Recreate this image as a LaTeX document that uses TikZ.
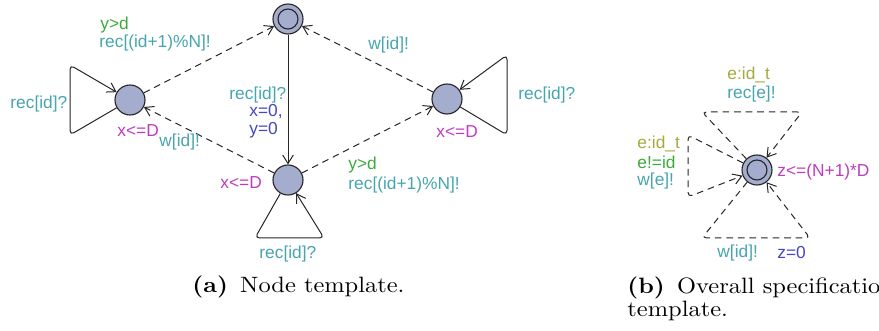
\documentclass[tikz,border=0pt]{standalone}
\usepackage{fontspec}
\newfontfamily\uppaalfont{Liberation Sans}
\usetikzlibrary{arrows.meta}
\definecolor{locfill}{RGB}{164,173,205}
\definecolor{synccol}{RGB}{70,165,175}
\definecolor{guardcol}{RGB}{60,170,60}
\definecolor{invcol}{RGB}{190,60,190}
\definecolor{updcol}{RGB}{70,70,190}
\definecolor{selcol}{RGB}{165,170,60}
\tikzset{
	loc/.style={circle,draw=black!85,fill=locfill,line width=0.5pt,minimum size=13.5pt,inner sep=0pt},
	edge/.style={black!85,line width=0.45pt,-{Straight Barb[length=3.8pt,width=4.8pt]}},
	dashededge/.style={edge,dash pattern=on 3pt off 2.2pt},
	lbl/.style={anchor=west,inner sep=0pt,font=\uppaalfont\fontsize{7.8}{9}\selectfont},
	capt/.style={anchor=base west,inner sep=0pt,font=\fontsize{10}{12}\selectfont},
}

\begin{document}
\begin{tikzpicture}[x=0.45pt,y=-0.45pt]
	\useasboundingbox (0,0) rectangle (879,331);
	% locations
	\node[loc] (T) at (288,19) {};
	\node[loc] (L) at (130,100) {};
	\node[loc] (R) at (447,99) {};
	\node[loc] (B) at (288,180) {};
	\node[loc] (S) at (757,170) {};
	\draw[black!85,line width=0.5pt] (T.center) circle[radius=4.5pt];
	\draw[black!85,line width=0.5pt] (S.center) circle[radius=4.5pt];
	% loop corners
	\coordinate (Lt) at (70,65);
	\coordinate (Lb) at (70,135);
	\coordinate (Bl) at (255,238);
	\coordinate (Br) at (324,238);
	\coordinate (Rt) at (507,55);
	\coordinate (Rb) at (507,135);
	\coordinate (St1) at (702,112);
	\coordinate (St2) at (802,112);
	\coordinate (Sl1) at (688,135);
	\coordinate (Sl2) at (688,197);
	\coordinate (Sb1) at (702,238);
	\coordinate (Sb2) at (810,238);
	% edges
	\draw[dashededge] (L) -- (T);
	\draw[edge] (T) -- (B);
	\draw[dashededge] (B) -- (R);
	\draw[dashededge] (R) -- (T);
	\draw[dashededge] (B) -- (L);
	\draw[edge,rounded corners=2pt] (L) -- (Lb) -- (Lt) -- (L);
	\draw[edge,rounded corners=2pt] (B) -- (Bl) -- (Br) -- (B);
	\draw[edge,rounded corners=2pt] (R) -- (Rb) -- (Rt) -- (R);
	\draw[dashededge,rounded corners=2pt] (S) -- (St1) -- (St2) -- (S);
	\draw[dashededge,rounded corners=2pt] (S) -- (Sl1) -- (Sl2) -- (S);
	\draw[dashededge,rounded corners=2pt] (S) -- (Sb1) -- (Sb2) -- (S);
	% labels (a)
	\node[lbl,guardcol] (g1) at (100,25) {y>d};
	\node[lbl,synccol] (s1) at (99,43) {rec[(id+1)\%N]!};
	\node[lbl,synccol] (s2) at (10,104) {rec[id]?};
	\node[lbl,invcol] (i1) at (117,131) {x<=D};
	\node[lbl,synccol] (s3) at (159,142) {w[id]!};
	\node[lbl,synccol] (s4) at (229,95) {rec[id]?};
	\node[lbl,updcol] (u1) at (249,112) {x=0,};
	\node[lbl,updcol] (u2) at (249,130) {y=0};
	\node[lbl,synccol] (s5) at (368,45) {w[id]!};
	\node[lbl,invcol] (i2) at (436,132) {x<=D};
	\node[lbl,synccol] (s6) at (518,95) {rec[id]?};
	\node[lbl,invcol] (i3) at (220,183) {x<=D};
	\node[lbl,guardcol] (g2) at (348,165) {y>d};
	\node[lbl,synccol] (s7) at (348,185) {rec[(id+1)\%N]!};
	\node[lbl,synccol] (s8) at (259,254) {rec[id]?};
	% labels (b)
	\node[lbl,selcol] (e1) at (727,75) {e:id\_t};
	\node[lbl,synccol] (s9) at (727,94) {rec[e]!};
	\node[lbl,selcol] (e2) at (637,144) {e:id\_t};
	\node[lbl,guardcol] (g3) at (637,162) {e!=id};
	\node[lbl,synccol] (s10) at (637,181) {w[e]!};
	\node[lbl,invcol] (i4) at (777,172) {z<=(N+1)*D};
	\node[lbl,synccol] (s11) at (717,253) {w[id]!};
	\node[lbl,updcol] (u3) at (777,253) {z=0};
	% captions
	\node[capt] (capa) at (192,293) {\scalebox{1.1}[1]{\textbf{(a)}\hspace{5pt}Node template.}};
	\node[capt] (capb1) at (627,294) {\scalebox{1.1}[1]{\textbf{(b)}\hspace{5pt}Overall specification}};
	\node[capt] (capb2) at (627,317) {\scalebox{1.1}[1]{template.}};
\end{tikzpicture}
\end{document}
